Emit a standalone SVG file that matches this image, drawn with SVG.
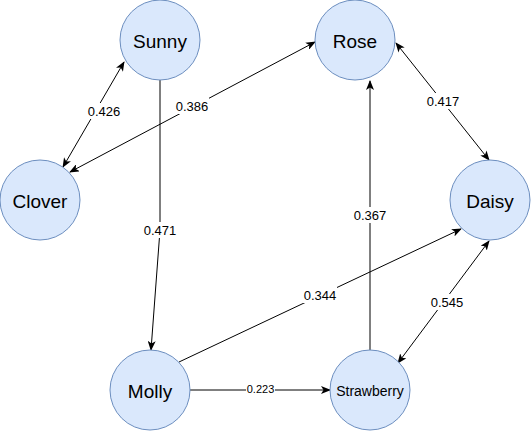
<svg xmlns="http://www.w3.org/2000/svg" width="531" height="431" viewBox="0 0 531 431">
<defs>
<marker id="arr" viewBox="0 0 10 8" refX="9" refY="4" markerWidth="10" markerHeight="8" markerUnits="userSpaceOnUse" orient="auto-start-reverse">
<path d="M0,0 L10,4 L0,8 L2.5,4 Z" fill="#000"/>
</marker>
</defs>
<style>
.n{fill:#dae8fc;stroke:#6c8ebf;stroke-width:1}
.t{font-family:"Liberation Sans",Arial,sans-serif;font-size:19px;fill:#000;text-anchor:middle;dominant-baseline:central}
.e{fill:none;stroke:#000;stroke-width:1}
.l{font-family:"Liberation Sans",Arial,sans-serif;font-size:13px;fill:#000;text-anchor:middle;dominant-baseline:central}
.bg{fill:#fff}
</style>
<rect width="531" height="431" fill="#fff"/>
<g id="connectors">
<path class="e" d="M124,62 L63,167" marker-start="url(#arr)" marker-end="url(#arr)"/>
<path class="e" d="M315,42 L70,172" marker-start="url(#arr)" marker-end="url(#arr)"/>
<path class="e" d="M160,80 L160,230 L151,350" marker-end="url(#arr)"/>
<path class="e" d="M396,43 L489,160" marker-start="url(#arr)" marker-end="url(#arr)"/>
<path class="e" d="M370,350 L370,81" marker-end="url(#arr)"/>
<path class="e" d="M179,362 L461,229" marker-end="url(#arr)"/>
<path class="e" d="M489,241 L398,363" marker-start="url(#arr)" marker-end="url(#arr)"/>
<path class="e" d="M190,390 L330,390" marker-end="url(#arr)"/>
<rect class="bg" x="87" y="103" width="34" height="16"/><text class="l" x="104" y="111">0.426</text>
<rect class="bg" x="175" y="98" width="34" height="16"/><text class="l" x="192" y="106">0.386</text>
<rect class="bg" x="143" y="222" width="34" height="16"/><text class="l" x="160" y="230">0.471</text>
<rect class="bg" x="426" y="93" width="34" height="16"/><text class="l" x="443" y="101">0.417</text>
<rect class="bg" x="353" y="207" width="34" height="16"/><text class="l" x="370" y="215">0.367</text>
<rect class="bg" x="303" y="287" width="34" height="16"/><text class="l" x="320" y="295">0.344</text>
<rect class="bg" x="430" y="294" width="34" height="16"/><text class="l" x="447" y="302">0.545</text>
<rect class="bg" x="246" y="383" width="29" height="13"/><text class="l" x="260.5" y="389" style="font-size:11px">0.223</text>
</g>
<g id="sunny"><circle class="n" cx="160" cy="40" r="40"/><text class="t" x="160" y="41">Sunny</text></g>
<g id="rose"><circle class="n" cx="355" cy="40" r="40"/><text class="t" x="355" y="41">Rose</text></g>
<g id="clover"><circle class="n" cx="40" cy="200" r="40"/><text class="t" x="40" y="201">Clover</text></g>
<g id="daisy"><circle class="n" cx="490" cy="200" r="40"/><text class="t" x="490" y="201">Daisy</text></g>
<g id="molly"><circle class="n" cx="150" cy="390" r="40"/><text class="t" x="150" y="391">Molly</text></g>
<g id="strawberry"><circle class="n" cx="370" cy="390" r="40"/><text class="t" x="370" y="391" style="font-size:14px">Strawberry</text></g>
</svg>
